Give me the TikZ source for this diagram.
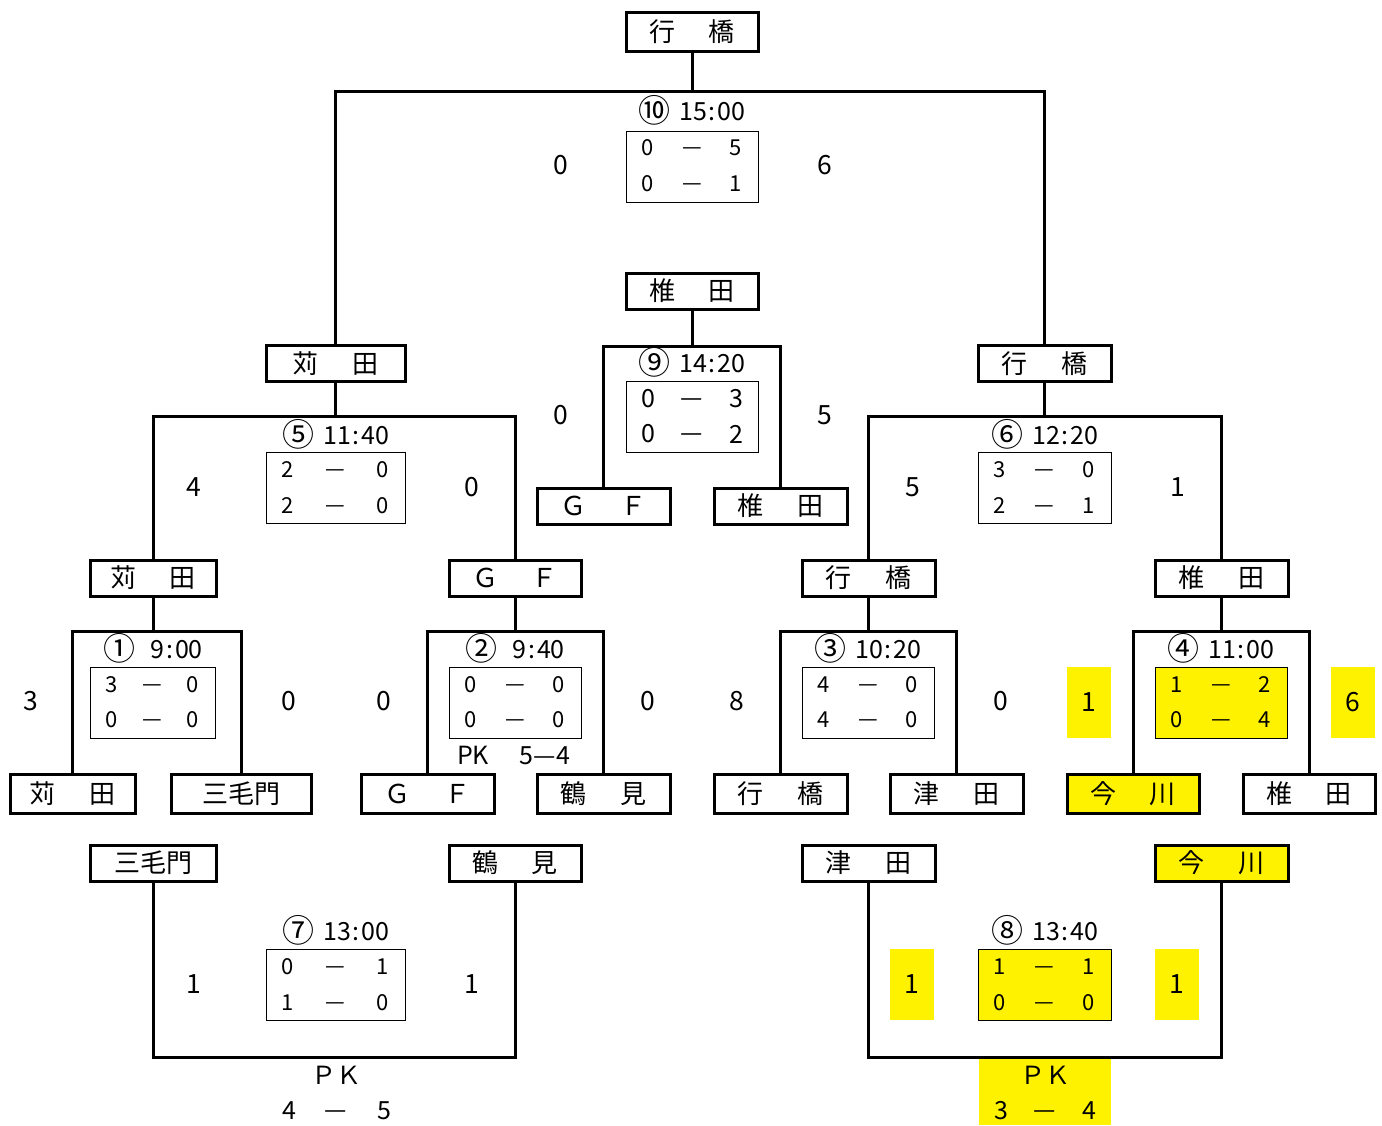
\documentclass[tikz,border=0pt]{standalone}
\usepackage{fontspec}
\usetikzlibrary{backgrounds}
\setmainfont{Noto Sans CJK JP}
\newcommand\tn[2]{#1\hspace{1.3em}#2}
\newcommand\cnum[1]{\raisebox{-1.5pt}{\fontsize{32}{32}\selectfont#1}}
\newcommand\srow[7][sc]{%
 \node[#1] (#2l) at ({#3+22},#5) {#6};
 \node[#1, #1dsh] (#2d) at ({(#3+#4)/2},#5) {—};
 \node[#1] (#2r) at ({#4-22},#5) {#7};}
\begin{document}
\begin{tikzpicture}[x=1pt,y=-1pt,
  team/.style={draw, fill=white, line width=3pt, minimum height=36pt, inner sep=0pt, font=\fontsize{26}{26}\selectfont},
  hl/.style={fill=yellow},
  br/.style={line width=3pt},
  sbox/.style={draw, line width=0.9pt, inner sep=0pt, minimum height=71pt},
  lab/.style={font=\fontsize{25}{25}\selectfont, inner sep=0pt},
  sc/.style={font=\fontsize{22}{22}\selectfont, inner sep=0pt},
  scb/.style={font=\fontsize{25}{25}\selectfont, inner sep=0pt},
  scdsh/.style={text height=13.5pt, text depth=0pt},
  scbdsh/.style={text height=15.5pt, text depth=0pt},
  side/.style={font=\fontsize{26.5}{27}\selectfont, inner sep=0pt},
  yb/.style={fill=yellow, minimum width=44pt, minimum height=71pt, inner sep=0pt, font=\fontsize{26.5}{27}\selectfont}]
\useasboundingbox (0,0) rectangle (1382,1125);

% junction coordinates
\coordinate (j10) at (692,91);
\coordinate (j9) at (692,346);
\coordinate (j5) at (335.5,416);
\coordinate (j6) at (1044.5,416);
\coordinate (j1) at (153,631);
\coordinate (j2) at (515,631);
\coordinate (j3) at (868.5,631);
\coordinate (j4) at (1221.5,631);
\coordinate (j7) at (336,1057);
\coordinate (j8) at (1045,1057);

% team boxes
\node[team, minimum width=132pt, minimum height=39pt] (T0) at (692,31.5) {\tn{行}{橋}};
\node[team, minimum width=139pt] (K2) at (335.5,363.5) {\tn{苅}{田}};
\node[team, minimum width=133pt] (G2) at (1044.5,363.5) {\tn{行}{橋}};
\node[team, minimum width=132pt] (S1) at (692,291) {\tn{椎}{田}};
\node[team, minimum width=133pt] (GF3) at (603.5,506) {\tn{Ｇ}{Ｆ}};
\node[team, minimum width=133pt] (S3) at (780.5,506) {\tn{椎}{田}};
\node[team, minimum width=126pt] (K4) at (153,578) {\tn{苅}{田}};
\node[team, minimum width=132pt] (GF4) at (515,578) {\tn{Ｇ}{Ｆ}};
\node[team, minimum width=133pt] (G4) at (868.5,578) {\tn{行}{橋}};
\node[team, minimum width=133pt] (S4) at (1221.5,578) {\tn{椎}{田}};
\node[team, minimum width=125pt, minimum height=39pt] (K5) at (72.5,793.5) {\tn{苅}{田}};
\node[team, minimum width=140pt, minimum height=39pt] (M5) at (241,793.5) {三毛門};
\node[team, minimum width=133pt, minimum height=39pt] (GF5) at (427.5,793.5) {\tn{Ｇ}{Ｆ}};
\node[team, minimum width=133pt, minimum height=39pt] (T5) at (603.5,793.5) {\tn{鶴}{見}};
\node[team, minimum width=133pt, minimum height=39pt] (G5) at (780.5,793.5) {\tn{行}{橋}};
\node[team, minimum width=133pt, minimum height=39pt] (D5) at (956.5,793.5) {\tn{津}{田}};
\node[team, hl, minimum width=132pt, minimum height=39pt] (I5) at (1133,793.5) {\tn{今}{川}};
\node[team, minimum width=132pt, minimum height=39pt] (S5) at (1309,793.5) {\tn{椎}{田}};
\node[team, minimum width=126pt] (M7) at (153,863) {三毛門};
\node[team, minimum width=132pt] (T7) at (515,863) {\tn{鶴}{見}};
\node[team, minimum width=133pt] (D7) at (868.5,863) {\tn{津}{田}};
\node[team, hl, minimum width=133pt] (I7) at (1221.5,863) {\tn{今}{川}};

% brackets (behind the boxes)
\begin{pgfonlayer}{background}
\fill[white] (0,0) rectangle (1382,1125);
\draw[br] (T0.south) -- (j10);
\draw[br] (K2.north) |- (j10) -| (G2.north);
\draw[br] (S1.south) -- (j9);
\draw[br] (GF3.north) |- (j9) -| (S3.north);
\draw[br] (K2.south) -- (j5);
\draw[br] (K4.north) |- (j5) -| (GF4.north);
\draw[br] (G2.south) -- (j6);
\draw[br] (G4.north) |- (j6) -| (S4.north);
\draw[br] (K4.south) -- (j1);
\draw[br] (K5.north) |- (j1) -| (M5.north);
\draw[br] (GF4.south) -- (j2);
\draw[br] (GF5.north) |- (j2) -| (T5.north);
\draw[br] (G4.south) -- (j3);
\draw[br] (G5.north) |- (j3) -| (D5.north);
\draw[br] (S4.south) -- (j4);
\draw[br] (I5.north) |- (j4) -| (S5.north);
\draw[br] (M7.south) |- (j7) -| (T7.south);
\draw[br] (D7.south) |- (j8) -| (I7.south);
\end{pgfonlayer}

% match labels
\node[lab] (L10) at (692,110) {\cnum{⑩}\hspace{0.35em}15{\kern2pt}:{\kern2pt}00};
\node[lab] (L9) at (692,362) {\cnum{⑨}\hspace{0.35em}14{\kern2pt}:{\kern2pt}20};
\node[lab] (L5) at (336,434) {\cnum{⑤}\hspace{0.35em}11{\kern2pt}:{\kern2pt}40};
\node[lab] (L6) at (1045,434) {\cnum{⑥}\hspace{0.35em}12{\kern2pt}:{\kern2pt}20};
\node[lab] (L1) at (153,648) {\cnum{①}\hspace{0.6em}9{\kern2pt}:{\kern2pt}00};
\node[lab] (L2) at (515,648) {\cnum{②}\hspace{0.6em}9{\kern2pt}:{\kern2pt}40};
\node[lab] (L3) at (868,648) {\cnum{③}\hspace{0.35em}10{\kern2pt}:{\kern2pt}20};
\node[lab] (L4) at (1221,648) {\cnum{④}\hspace{0.35em}11{\kern2pt}:{\kern2pt}00};
\node[lab] (L7) at (336,930) {\cnum{⑦}\hspace{0.35em}13{\kern2pt}:{\kern2pt}00};
\node[lab] (L8) at (1045,930) {\cnum{⑧}\hspace{0.35em}13{\kern2pt}:{\kern2pt}40};

% score boxes
\node[sbox, minimum width=132pt] (s10) at (692,166.5) {};
\srow{s10a}{626}{758}{148}{0}{5}
\srow{s10b}{626}{758}{184}{0}{1}
\node[sbox, minimum width=132pt] (s9) at (692,416.5) {};
\srow[scb]{s9a}{626}{758}{399}{0}{3}
\srow[scb]{s9b}{626}{758}{434}{0}{2}
\node[sbox, minimum width=139pt] (s5) at (335.5,487.5) {};
\srow{s5a}{266}{405}{470}{2}{0}
\srow{s5b}{266}{405}{506}{2}{0}
\node[sbox, minimum width=133pt] (s6) at (1044.5,487.5) {};
\srow{s6a}{978}{1111}{470}{3}{0}
\srow{s6b}{978}{1111}{506}{2}{1}
\node[sbox, minimum width=125pt] (s1) at (152.5,702.5) {};
\srow{s1a}{90}{215}{685}{3}{0}
\srow{s1b}{90}{215}{720}{0}{0}
\node[sbox, minimum width=132pt] (s2) at (515,702.5) {};
\srow{s2a}{449}{581}{685}{0}{0}
\srow{s2b}{449}{581}{720}{0}{0}
\node[sbox, minimum width=132pt] (s3) at (868,702.5) {};
\srow{s3a}{802}{934}{685}{4}{0}
\srow{s3b}{802}{934}{720}{4}{0}
\node[sbox, hl, minimum width=132pt] (s4) at (1221,702.5) {};
\srow{s4a}{1155}{1287}{685}{1}{2}
\srow{s4b}{1155}{1287}{720}{0}{4}
\node[sbox, minimum width=139pt] (s7) at (335.5,984.5) {};
\srow{s7a}{266}{405}{967}{0}{1}
\srow{s7b}{266}{405}{1003}{1}{0}
\node[sbox, hl, minimum width=133pt] (s8) at (1044.5,984.5) {};
\srow{s8a}{978}{1111}{967}{1}{1}
\srow{s8b}{978}{1111}{1003}{0}{0}

% side scores
\node[side] (a10) at (561,165) {0};
\node[side] (b10) at (825,165) {6};
\node[side] (a9) at (561,415) {0};
\node[side] (b9) at (825,415) {5};
\node[side] (a5) at (194,487) {4};
\node[side] (b5) at (472,487) {0};
\node[side] (a6) at (913,487) {5};
\node[side] (b6) at (1178,487) {1};
\node[side] (a1) at (31,701) {3};
\node[side] (b1) at (289,701) {0};
\node[side] (a2) at (384,701) {0};
\node[side] (b2) at (648,701) {0};
\node[side] (a3) at (737,701) {8};
\node[side] (b3) at (1001,701) {0};
\node[yb] (a4) at (1089,702.5) {1};
\node[yb] (b4) at (1353,702.5) {6};
\node[side] (a7) at (194,984) {1};
\node[side] (b7) at (472,984) {1};
\node[yb] (a8) at (912,984.5) {1};
\node[yb] (b8) at (1177,984.5) {1};

% PK results
\node[lab] (pk2a) at (473,755) {PK};
\node[lab, anchor=base] (pk2b) at (545,764) {5—4};
\node[lab] (pk7) at (336,1075) {ＰＫ};
\node[lab] (pk7l) at (289,1111) {4};
\node[lab, scbdsh] (pk7d) at (336,1111) {—};
\node[lab] (pk7r) at (384,1111) {5};
\node[fill=yellow, minimum width=132pt, minimum height=66pt, inner sep=0pt] (pk8box) at (1045,1092) {};
\node[lab] (pk8) at (1045,1075) {ＰＫ};
\node[lab] (pk8l) at (1001,1111) {3};
\node[lab, scbdsh] (pk8d) at (1045,1111) {—};
\node[lab] (pk8r) at (1089,1111) {4};
\end{tikzpicture}
\end{document}
